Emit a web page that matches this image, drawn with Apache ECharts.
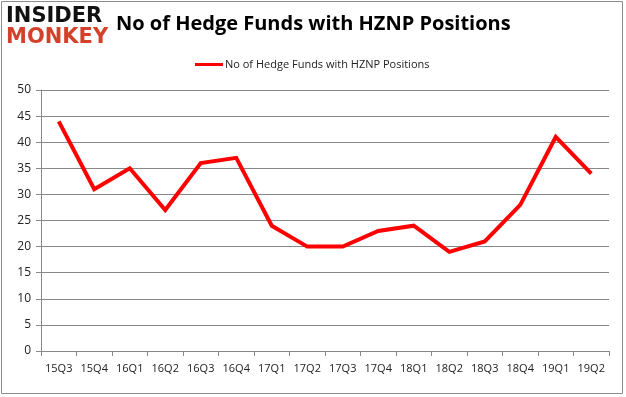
<!DOCTYPE html>
<html>
<head>
<meta charset="utf-8">
<script src="https://cdn.jsdelivr.net/npm/echarts@6/dist/echarts.min.js"></script>
<style>
  html, body { margin: 0; padding: 0; background: #fff; }
  #chart { width: 626px; height: 397px; }
</style>
</head>
<body>
<div id="chart"></div>
<script>
const quarters = ['15Q3', '15Q4', '16Q1', '16Q2', '16Q3', '16Q4', '17Q1', '17Q2',
  '17Q3', '17Q4', '18Q1', '18Q2', '18Q3', '18Q4', '19Q1', '19Q2']
const hedgeFunds = [44, 31, 35, 27, 36, 37, 24, 20, 20, 23, 24, 19, 21, 28, 41, 34]
const seriesName = 'No of Hedge Funds with HZNP Positions'
const chartTitle = 'No of Hedge Funds with HZNP Positions'

const chart = echarts.init(document.getElementById('chart'))

const font = '"Open Sans", "Noto Sans", sans-serif'

chart.setOption({
  animation: false,
  graphic: [
    {
      type: 'rect',
      shape: { x: 1.5, y: 1.5, width: 621, height: 392 },
      style: { fill: 'none', stroke: '#8c8c8c', lineWidth: 1 }
    },
    {
      type: 'text', left: 6, top: 6,
      style: { text: 'INSIDER', fill: '#111', font: 'bold 21px "DejaVu Sans"' }
    },
    {
      type: 'text', left: 6, top: 27,
      style: { text: 'MONKEY', fill: '#d4412a', font: 'bold 21px "DejaVu Sans"' }
    },
    {
      type: 'text', left: 116, top: 14,
      style: { text: chartTitle, fill: '#000', font: 'bold 20px ' + font }
    }
  ],
  legend: {
    data: [seriesName],
    top: 54,
    left: 190,
    itemWidth: 28,
    itemHeight: 3,
    itemGap: 4,
    icon: 'rect',
    textStyle: { fontSize: 11, color: '#222', fontFamily: font, padding: [0, 0, 0, -3] }
  },
  grid: {
    left: 41,
    right: 17,
    top: 90,
    bottom: 46
  },
  xAxis: {
    type: 'category',
    data: quarters,
    boundaryGap: true,
    axisLine: { lineStyle: { color: '#888' } },
    axisTick: { show: true, length: 5, lineStyle: { color: '#888' } },
    axisLabel: { fontSize: 11, color: '#222', fontFamily: font, margin: 12, interval: 0 }
  },
  yAxis: {
    type: 'value',
    min: 0,
    max: 50,
    interval: 5,
    axisLine: { show: true, lineStyle: { color: '#888' } },
    axisTick: { show: true, length: 5, lineStyle: { color: '#888' } },
    axisLabel: { fontSize: 12, color: '#222', fontFamily: font, margin: 10 },
    splitLine: { lineStyle: { color: '#888', width: 1 } }
  },
  series: [
    {
      name: seriesName,
      type: 'line',
      data: hedgeFunds,
      symbol: 'none',
      lineStyle: { color: '#ff0000', width: 4, join: 'miter' },
      itemStyle: { color: '#ff0000' }
    }
  ]
})
</script>
</body>
</html>
